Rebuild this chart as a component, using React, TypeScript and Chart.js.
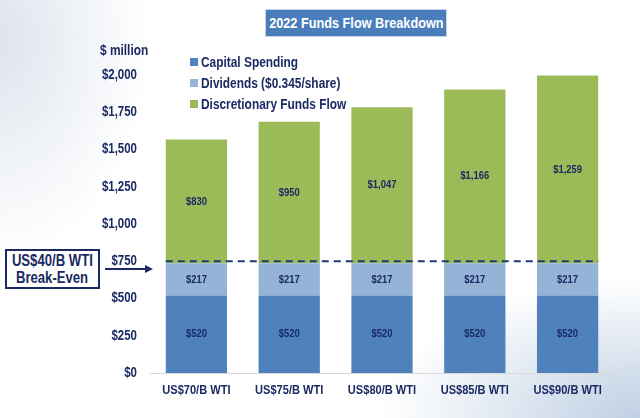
import React, { useEffect, useRef } from "react";
import { Chart, registerables } from "chart.js";

Chart.register(...registerables);

const categories = ["US$70/B WTI", "US$75/B WTI", "US$80/B WTI", "US$85/B WTI", "US$90/B WTI"];
const seriesNames = ["Capital Spending", "Dividends ($0.345/share)", "Discretionary Funds Flow"];
const capitalSpending = [520, 520, 520, 520, 520];
const dividends = [217, 217, 217, 217, 217];
const discretionary = [830, 950, 1047, 1166, 1259];
const breakEvenValue = 750;
const yTicks = [0, 250, 500, 750, 1000, 1250, 1500, 1750, 2000];

const colors = ["#4f81bd", "#95b3d7", "#9bbb59"];
const NAVY = "#1b2a63";
const FONT = "'Liberation Sans', Arial, sans-serif";
const SX = 0.82;

const fmt = (v: number) => "$" + v.toLocaleString("en-US");

function drawNarrow(ctx: CanvasRenderingContext2D, t: string, x: number, y: number, align: CanvasTextAlign, font: string) {
  ctx.save();
  ctx.font = font;
  ctx.textAlign = align;
  ctx.textBaseline = "middle";
  ctx.translate(x, y);
  ctx.scale(SX, 1);
  ctx.fillText(t, 0, 0);
  ctx.restore();
}

const labelsPlugin = {
  id: "segLabels",
  afterDatasetsDraw(chart: any) {
    const ctx = chart.ctx;
    ctx.save();
    ctx.fillStyle = NAVY;
    chart.data.datasets.forEach((ds: any, di: number) => {
      const meta = chart.getDatasetMeta(di);
      meta.data.forEach((bar: any, i: number) => {
        const y = (bar.y + bar.base) / 2;
        drawNarrow(ctx, fmt(ds.data[i]), bar.x, y, "center", `bold 11.5px ${FONT}`);
      });
    });
    const ys = chart.scales.y;
    const xs = chart.scales.x;
    yTicks.forEach((v) => {
      drawNarrow(ctx, fmt(v), ys.right - 13, ys.getPixelForValue(v), "right", `bold 14px ${FONT}`);
    });
    categories.forEach((c, i) => {
      drawNarrow(ctx, c, xs.getPixelForValue(i), xs.top + 17, "center", `bold 13.5px ${FONT}`);
    });
    const first = chart.getDatasetMeta(0).data[0];
    const last = chart.getDatasetMeta(0).data[categories.length - 1];
    const yy = ys.getPixelForValue(breakEvenValue);
    ctx.strokeStyle = "#1f3b70";
    ctx.lineWidth = 2;
    ctx.setLineDash([7, 5]);
    ctx.beginPath();
    ctx.moveTo(first.x - first.width / 2, yy);
    ctx.lineTo(last.x + last.width / 2, yy);
    ctx.stroke();
    ctx.restore();
  },
};

const narrow = (origin: string): React.CSSProperties => ({
  display: "inline-block",
  transform: `scaleX(${SX})`,
  transformOrigin: origin,
  flexShrink: 0,
});

export default function App() {
  const ref = useRef<HTMLCanvasElement | null>(null);
  useEffect(() => {
    if (!ref.current) return;
    const chart = new Chart(ref.current, {
      type: "bar",
      data: {
        labels: categories,
        datasets: [
          { label: seriesNames[0], data: capitalSpending, backgroundColor: colors[0] },
          { label: seriesNames[1], data: dividends, backgroundColor: colors[1] },
          { label: seriesNames[2], data: discretionary, backgroundColor: colors[2] },
        ],
      },
      options: {
        responsive: false,
        animation: false,
        layout: { padding: { left: 0, right: 26, top: 75, bottom: 15 } },
        datasets: { bar: { categoryPercentage: 1, barPercentage: 0.66 } },
        plugins: { legend: { display: false }, tooltip: { enabled: false } },
        scales: {
          x: {
            stacked: true,
            grid: { display: false, drawTicks: false },
            border: { color: "#d9d9d9", width: 1 },
            ticks: { display: false },
            afterFit: (s: any) => { s.height = 30; },
          },
          y: {
            stacked: true,
            min: 0,
            max: 2000,
            grid: { display: false, drawTicks: false },
            border: { display: false },
            afterBuildTicks: (s: any) => { s.ticks = yTicks.map((v) => ({ value: v })); },
            ticks: { display: false },
            afterFit: (s: any) => { s.width = 150; },
          },
        },
      },
      plugins: [labelsPlugin],
    } as any);
    return () => chart.destroy();
  }, []);

  const text: React.CSSProperties = { position: "absolute", fontFamily: FONT, fontWeight: "bold", color: NAVY, whiteSpace: "nowrap" };
  const centerLine: React.CSSProperties = { display: "flex", justifyContent: "center", height: 17 };

  return (
    <div
      style={{
        position: "fixed",
        left: 0,
        top: 0,
        width: 640,
        height: 418,
        overflow: "hidden",
        background:
          "radial-gradient(ellipse 150px 220px at 0px 40px, rgba(200,210,225,0.6), rgba(255,255,255,0)), radial-gradient(ellipse 260px 140px at 640px 418px, rgba(175,195,220,0.8), rgba(255,255,255,0)), #ffffff",
      }}
    >
      <canvas ref={ref} width={640} height={418} style={{ position: "absolute", left: 0, top: 0 }} />
      <div
        style={{
          position: "absolute",
          left: 265,
          top: 9,
          width: 182,
          height: 28,
          background: "#4a7ebb",
          border: "1px solid #c8d6ea",
          boxSizing: "border-box",
          display: "flex",
          alignItems: "center",
          justifyContent: "center",
          color: "#ffffff",
          fontFamily: FONT,
          fontWeight: "bold",
          fontSize: 15.5,
          whiteSpace: "nowrap",
        }}
      >
        <span style={narrow("center")}>2022 Funds Flow Breakdown</span>
      </div>
      <div style={{ ...text, left: 100, top: 42, fontSize: 14.5 }}>
        <span style={narrow("left")}>$ million</span>
      </div>
      {seriesNames.map((n, i) => (
        <div key={n} style={{ ...text, left: 190, top: 54 + i * 21, fontSize: 14.5, display: "flex", alignItems: "center" }}>
          <span style={{ display: "inline-block", width: 8, height: 8, background: colors[i], marginRight: 3 }} />
          <span style={narrow("left")}>{n}</span>
        </div>
      ))}
      <div
        style={{
          ...text,
          left: 5,
          top: 249,
          width: 95,
          height: 40,
          border: "2px solid " + NAVY,
          boxSizing: "border-box",
          background: "#ffffff",
          fontSize: 16,
          lineHeight: "17px",
          paddingTop: 1,
        }}
      >
        <div style={centerLine}><span style={narrow("center")}>US$40/B WTI</span></div>
        <div style={centerLine}><span style={narrow("center")}>Break-Even</span></div>
      </div>
      <svg width={640} height={418} style={{ position: "absolute", left: 0, top: 0 }}>
        <line x1={105} y1={269} x2={147} y2={269} stroke={NAVY} strokeWidth={2} />
        <polygon points="153,269 145,265 145,273" fill={NAVY} />
      </svg>
    </div>
  );
}
